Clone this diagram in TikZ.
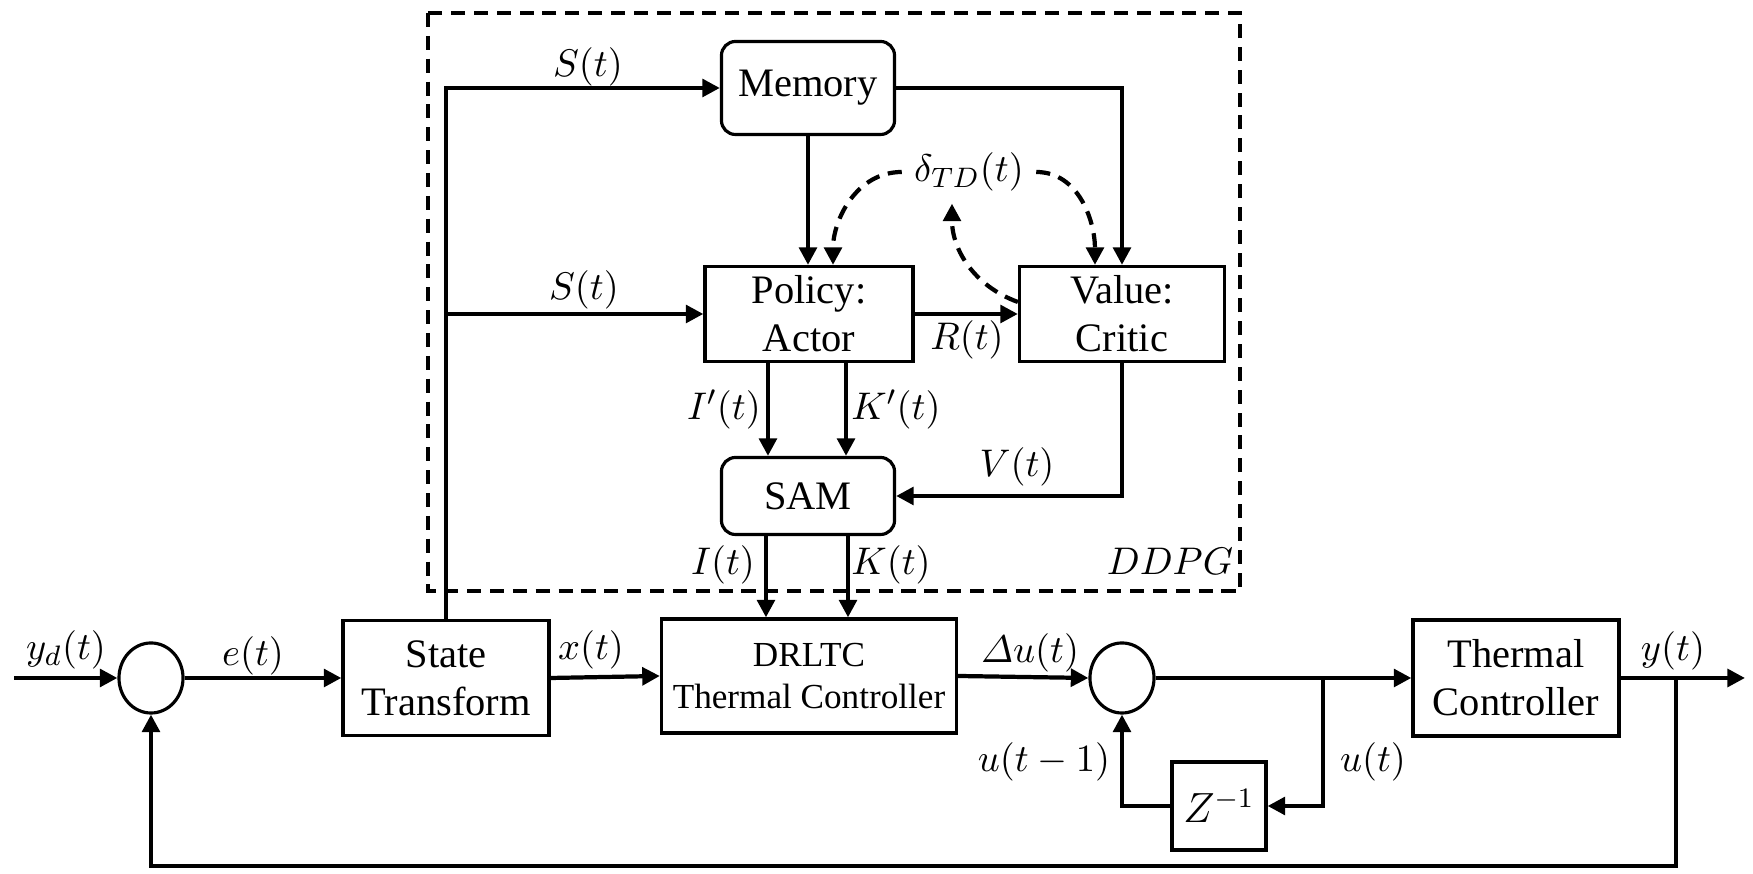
\documentclass[tikz,border=0pt]{standalone}
\usepackage{amsmath}
\usepackage{fontspec}
\setmainfont{Liberation Serif}
\usetikzlibrary{arrows.meta,shapes.geometric}

\begin{document}
\begin{tikzpicture}[x=0.01cm,y=-0.01cm,
	font=\fontsize{11}{13.6}\selectfont,
	>={Triangle[length=5pt,width=5pt]},
	blk/.style={draw,line width=0.9pt,align=center,inner sep=0pt,font=\fontsize{11.5}{13.6}\selectfont},
	rblk/.style={blk,rounded corners=4pt},
	sumnode/.style={draw,line width=0.9pt,ellipse,minimum width=0.64cm,minimum height=0.70cm,inner sep=0pt},
	conn/.style={line width=1.2pt},
	td/.style={line width=1.2pt,dash pattern=on 4pt off 2.5pt}]
		\useasboundingbox (0,0) rectangle (1753,874);
		
		%ddpg frame
		\draw[line width=1.1pt,dash pattern=on 4pt off 2.5pt] (428,13) rectangle (1240,591);
		\node (lddpg) at (1170,561) {$DDPG$};
		
		%blocks
		\node[rblk,minimum width=1.73cm,minimum height=0.93cm] (mem) at (808,88) {Memory};
		\node[blk,minimum width=2.08cm,minimum height=0.95cm] (pol) at (809,314) {Policy:\\Actor};
		\node[blk,minimum width=2.05cm,minimum height=0.95cm] (val) at (1122,314) {Value:\\Critic};
		\node[rblk,minimum width=1.73cm,minimum height=0.77cm] (sam) at (808,496) {SAM};
		\node[blk,minimum width=2.06cm,minimum height=1.15cm] (st) at (446,678) {State\\Transform};
		\node[blk,minimum width=2.95cm,minimum height=1.14cm,font=\fontsize{10}{12}\selectfont] (drl) at (809,676) {DRLTC\\Thermal Controller};
		\node[blk,minimum width=2.06cm,minimum height=1.16cm] (tc) at (1516,678) {Thermal\\Controller};
		\node[blk,minimum width=0.94cm,minimum height=0.88cm] (zinv) at (1219,806) {$Z^{-1}$};
		\node[sumnode] (s1) at (151,678) {};
		\node[sumnode] (s2) at (1122,678) {};
		
		%branch points
		\coordinate (in) at (14,678);
		\coordinate (out) at (1745,678);
		\coordinate (ubr) at (1323,678);
		\coordinate (ybr) at (1676,678);
		\coordinate (fb) at (1676,866);
		
		%main loop
		\draw[conn,->] (in) -- (s1.west);
		\draw[conn,->] (s1.east) -- (st.west);
		\draw[conn,->] (st.east) -- (drl.west);
		\draw[conn,->] (drl.east) -- (s2.west);
		\draw[conn,->] (s2.east) -- (tc.west);
		\draw[conn,->] (ubr) |- (zinv.east);
		\draw[conn,->] (zinv.west) -| (s2.south);
		\draw[conn,->] (tc.east) -- (out);
		\draw[conn,->] (ybr) -- (fb) -| (s1.south);
		
		%ddpg links
		\draw[conn,->] (st.north) |- (mem.west);
		\draw[conn,->] (st.north |- pol.west) -- (pol.west);
		\draw[conn,->] (mem.south) -- (mem.south |- pol.north);
		\draw[conn,->] (mem.east) -| (val.north);
		\draw[conn,->] (pol.east) -- (val.west);
		\draw[conn,->] (val.south) |- (sam.east);
		\draw[conn,->] ([xshift=-0.41cm]pol.south) -- ([xshift=-0.41cm]pol.south |- sam.north);
		\draw[conn,->] ([xshift=0.37cm]pol.south) -- ([xshift=0.37cm]pol.south |- sam.north);
		\draw[conn,->] ([xshift=-0.42cm]sam.south) -- ([xshift=-0.42cm]sam.south |- drl.north);
		\draw[conn,->] ([xshift=0.40cm]sam.south) -- ([xshift=0.40cm]sam.south |- drl.north);
		
		%td error
		\node (td) at (969,172) {$\delta_{TD}(t)$};
		\draw[td,->] (td.west) to[out=180,in=90] ([xshift=0.24cm]pol.north);
		\draw[td,->] (td.east) to[out=0,in=90] ([xshift=-0.27cm]val.north);
		\draw[td,->] ([yshift=0.12cm]val.west) to[out=160,in=-90] ([xshift=-0.17cm]td.south);
		
		%signals
		\node (ls1) at (588,67) {$S(t)$};
		\node (ls2) at (584,290) {$S(t)$};
		\node (lr) at (967,340) {$R(t)$};
		\node (lip) at (724,410) {$I'(t)$};
		\node (lkp) at (896,410) {$K'(t)$};
		\node (lv) at (1017,467) {$V(t)$};
		\node (li) at (723,565) {$I(t)$};
		\node (lk) at (891,565) {$K(t)$};
		\node (lyd) at (66,650) {$y_d(t)$};
		\node (le) at (253,656) {$e(t)$};
		\node (lx) at (591,650) {$x(t)$};
		\node (ldu) at (1030,653) {$\varDelta u(t)$};
		\node (lum) at (1044,762) {$u(t-1)$};
		\node (lu) at (1373,762) {$u(t)$};
		\node (ly) at (1673,651) {$y(t)$};
\end{tikzpicture}
\end{document}
